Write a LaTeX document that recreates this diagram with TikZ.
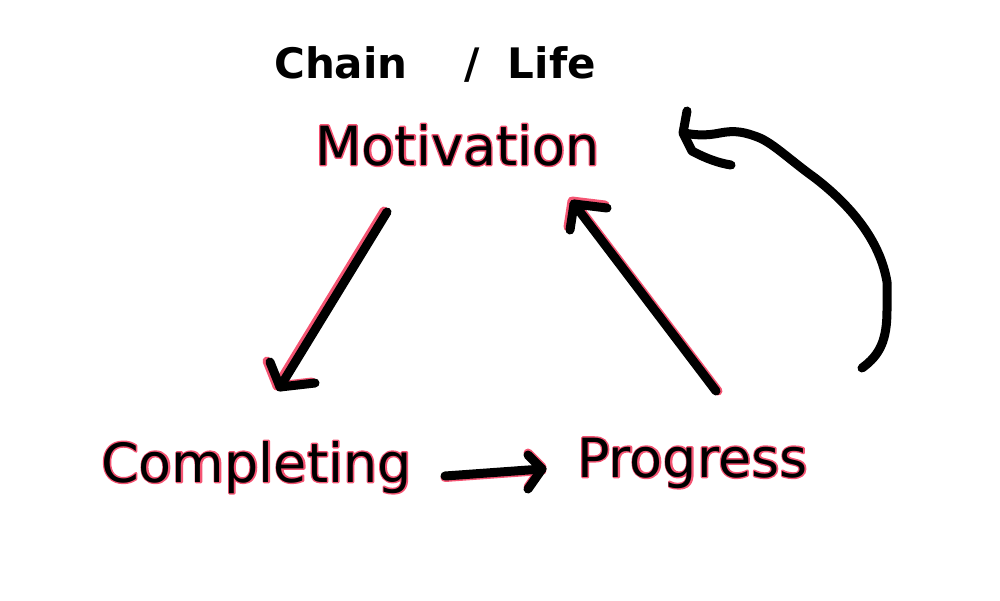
\documentclass[tikz,border=0pt]{standalone}
\usepackage{fontspec}
\setmainfont{DejaVu Sans}
\usetikzlibrary{calc}
\definecolor{pinkish}{RGB}{245,85,115}
\newcommand{\halo}[1]{\special{pdf:literal direct 1 Tr 2.8 w 1 j 0.96 0.33 0.45 RG}\rlap{#1}\special{pdf:literal direct 0 Tr}#1}
\tikzset{
  lbl/.style={font=\fontsize{54}{60}\selectfont, inner sep=0pt, anchor=base west, text=black},
  ink/.style={line width=9pt, line cap=round, line join=round, black},
  pinkink/.style={line width=9pt, line cap=round, line join=round, pinkish},
}
\begin{document}
\begin{tikzpicture}[x=1pt,y=-1pt]
\useasboundingbox (0,0) rectangle (1000,600);
% title
\node[font=\fontsize{42}{46}\bfseries\selectfont, inner sep=0pt, anchor=base west] (title) at (274,78) {Chain\hspace{57pt}/\hspace{28pt}Life};
% labels
\node[lbl] (mot) at (315,165) {\halo{Motivation}};
\node[lbl] (comp) at (101,482) {\halo{Completing}};
\node[lbl] (prog) at (577,477) {\halo{Progress}};
% arrow Motivation -> Completing
\coordinate (a1s) at (387,212);
\coordinate (a1t) at (280,387);
\coordinate (a1l) at (270,362);
\coordinate (a1r) at (315,383);
\draw[pinkink] ($(a1s)+(-3,-1)$) -- ($(a1t)+(-3,-1)$);
\draw[pinkink] ($(a1l)+(-3,-1)$) -- ($(a1t)+(-3,-1)$) -- ($(a1r)+(-3,-1)$);
\draw[ink] (a1s) -- (a1t);
\draw[ink] (a1l) -- (a1t) -- (a1r);
% arrow Completing -> Progress
\coordinate (a2s) at (445,476);
\coordinate (a2t) at (542,469);
\coordinate (a2u) at (528,455);
\coordinate (a2d) at (528,489);
\draw[pinkink] ($(a2s)+(0,1.5)$) -- ($(a2t)+(0,1.5)$);
\draw[pinkink] ($(a2u)+(0,-2)$) -- ($(a2t)+(0,-2)$) -- ($(a2d)+(0,-2)$);
\draw[ink] (a2s) -- (a2t);
\draw[ink] (a2u) -- (a2t) -- (a2d);
% arrow Progress -> Motivation
\coordinate (a3s) at (716,391);
\coordinate (a3t) at (574,204);
\coordinate (a3l) at (570,230);
\coordinate (a3r) at (607,208);
\draw[pinkink] ($(a3s)+(2,0)$) -- ($(a3t)+(2,0)$);
\draw[pinkink] ($(a3l)+(-2,-3)$) -- ($(a3t)+(-2,-3)$) -- ($(a3r)+(-2,-3)$);
\draw[ink] (a3s) -- (a3t);
\draw[ink] (a3l) -- (a3t) -- (a3r);
% curved loop arrow
\coordinate (c0) at (862,368);
\coordinate (ctip) at (684,133);
\draw[ink] (c0) .. controls (880,355) and (887,340) .. (887,310)
  -- (887,282) .. controls (880,240) and (850,205) .. (815,178)
  .. controls (790,160) and (775,145) .. (760,138)
  .. controls (745,132) and (735,130) .. (720,133)
  .. controls (705,136) and (695,135) .. (ctip);
\draw[ink] (687,111) -- (683,133) -- (692,151) .. controls (705,158) and (718,163) .. (731,165);
\end{tikzpicture}
\end{document}
